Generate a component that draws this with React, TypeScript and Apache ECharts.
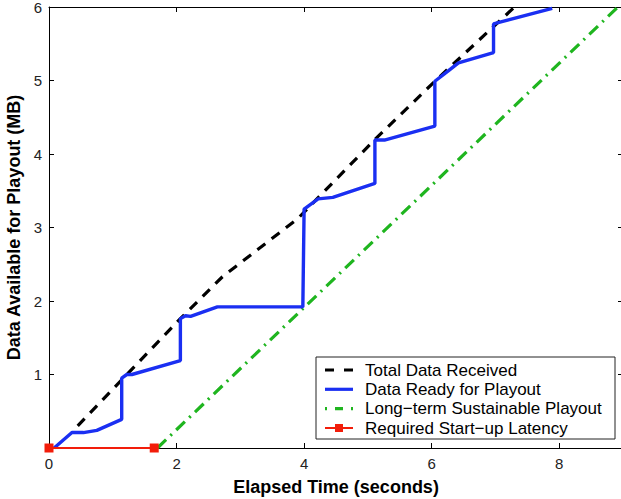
import React, { useEffect, useRef } from "react";
import * as echarts from "echarts";

const blueX = [0.08, 0.36, 0.54, 0.75, 1.14, 1.14, 1.22, 1.3, 2.06, 2.06, 2.14, 2.22, 2.64, 3.98, 4.0, 4.22, 4.45, 5.11, 5.11, 5.26, 6.05, 6.05, 6.26, 6.42, 6.97, 6.97, 7.1, 7.89];
const blueY = [0, 0.21, 0.21, 0.24, 0.39, 0.95, 1.0, 1.0, 1.19, 1.76, 1.8, 1.79, 1.92, 1.92, 3.25, 3.39, 3.41, 3.6, 4.19, 4.19, 4.38, 4.99, 5.13, 5.24, 5.38, 5.77, 5.8, 5.98];
const blackX = [0.45, 2.06, 2.72, 3.9, 4.27, 5.09, 6.05, 7.3];
const blackY = [0.3, 1.76, 2.33, 3.12, 3.45, 4.18, 4.99, 6.0];
const greenX = [1.7, 8.92];
const greenY = [0, 6];
const redX = [0, 1.65];
const redY = [0, 0];
const seriesNames = [
  "Total Data Received",
  "Data Ready for Playout",
  "Long\u2212term Sustainable Playout",
  "Required Start\u2212up Latency",
];
const xTicks = [0, 2, 4, 6, 8];
const yTicks = [1, 2, 3, 4, 5, 6];

const colors = ["#000000", "#1a2ff2", "#1fb51f", "#f21d0a"];
const dashes: (number[] | null)[] = [[9, 10], null, [2, 8, 8, 8], null];

const zip = (xs: number[], ys: number[]) => xs.map((x, i) => [x, ys[i]]);

export default function App() {
  const ref = useRef<HTMLDivElement>(null);
  useEffect(() => {
    if (!ref.current) return;
    const chart = echarts.init(ref.current, undefined, { renderer: "svg" });
    const font = "Liberation Sans, Arial, Helvetica, sans-serif";
    const axisCommon = {
      min: 0,
      axisLine: { show: true, onZero: false, lineStyle: { color: "#000", width: 1 } },
      axisTick: { show: true, inside: true, length: 5, lineStyle: { color: "#000" } },
      splitLine: { show: false },
    };

    // legend drawn as graphic elements
    const lgLeft = 316;
    const lgTop = 357;
    const rowY = [370, 389.3, 408.6, 428];
    const legendEls: any[] = [
      {
        type: "rect",
        shape: { x: lgLeft, y: lgTop, width: 299, height: 82 },
        style: { fill: "#fff", stroke: "#222", lineWidth: 1 },
        z: 100,
      },
    ];
    seriesNames.forEach((name, i) => {
      legendEls.push({
        type: "line",
        shape: { x1: 325, y1: rowY[i], x2: 353, y2: rowY[i] },
        style: {
          stroke: colors[i],
          lineWidth: i === 3 ? 2 : 3.2,
          lineDash: dashes[i] || undefined,
        },
        z: 101,
      });
      if (i === 3) {
        legendEls.push({
          type: "rect",
          shape: { x: 335, y: rowY[i] - 4, width: 8, height: 8 },
          style: { fill: colors[i] },
          z: 102,
        });
      }
      legendEls.push({
        type: "text",
        x: 365,
        y: rowY[i],
        style: {
          text: name,
          fontSize: 17,
          fontFamily: font,
          fill: "#000",
          verticalAlign: "middle",
          align: "left",
        },
        z: 101,
      });
    });

    chart.setOption({
      animation: false,
      backgroundColor: "#fff",
      textStyle: { fontFamily: font },
      grid: {
        left: 49,
        top: 7,
        width: 574,
        height: 441,
        containLabel: false,
        outerBoundsMode: "none",
      },
      graphic: legendEls,
      xAxis: [
        {
          ...axisCommon,
          type: "value",
          max: 9,
          interval: 2,
          name: "Elapsed Time (seconds)",
          nameLocation: "middle",
          nameGap: 30,
          nameTextStyle: { fontSize: 18, fontWeight: "bold", color: "#000", fontFamily: font },
          axisLabel: {
            fontSize: 15,
            color: "#222",
            margin: 8,
            formatter: (v: number) => (xTicks.includes(v) ? String(v) : ""),
          },
        },
        {
          ...axisCommon,
          type: "value",
          position: "top",
          max: 9,
          interval: 2,
          axisLabel: { show: false },
        },
      ],
      yAxis: [
        {
          ...axisCommon,
          type: "value",
          max: 6,
          interval: 1,
          name: "Data Available for Playout (MB)",
          nameLocation: "middle",
          nameGap: 25,
          nameTextStyle: { fontSize: 18, fontWeight: "bold", color: "#000", fontFamily: font },
          axisLabel: {
            fontSize: 15,
            color: "#222",
            margin: 7,
            formatter: (v: number) => (yTicks.includes(v) ? String(v) : ""),
          },
        },
        {
          ...axisCommon,
          type: "value",
          position: "right",
          max: 6,
          interval: 1,
          axisLabel: { show: false },
        },
      ],
      series: [
        {
          name: seriesNames[0],
          type: "line",
          data: zip(blackX, blackY),
          symbol: "none",
          lineStyle: { color: colors[0], width: 3.2, type: [10, 8] },
          z: 3,
        },
        {
          name: seriesNames[1],
          type: "line",
          data: zip(blueX, blueY),
          symbol: "none",
          lineStyle: { color: colors[1], width: 3.4 },
          z: 4,
        },
        {
          name: seriesNames[2],
          type: "line",
          data: zip(greenX, greenY),
          symbol: "none",
          lineStyle: { color: colors[2], width: 3.2, type: [12, 6, 2, 6] },
          z: 2,
        },
        {
          name: seriesNames[3],
          type: "line",
          data: zip(redX, redY),
          symbol: "rect",
          symbolSize: 9,
          showSymbol: true,
          lineStyle: { color: colors[3], width: 2 },
          itemStyle: { color: colors[3] },
          z: 5,
          clip: false,
        },
      ],
    });
    return () => chart.dispose();
  }, []);
  return (
    <div
      ref={ref}
      style={{ position: "fixed", left: 0, top: 0, width: 621, height: 499, background: "#fff" }}
    />
  );
}
